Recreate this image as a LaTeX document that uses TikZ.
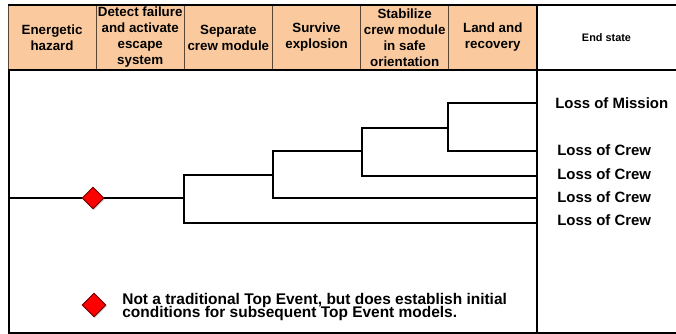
\documentclass[tikz,border=0pt]{standalone}
\usepackage{fontspec}
\setmainfont{Liberation Sans}
\usetikzlibrary{positioning,shapes.geometric,shadows}
\definecolor{peach}{RGB}{250,202,158}
\definecolor{rule}{RGB}{90,70,50}
\definecolor{hazred}{RGB}{255,0,0}
\definecolor{hazedge}{RGB}{110,0,0}
\lineskiplimit=-5pt

\begin{document}
\begin{tikzpicture}[
  x=0.02cm,y=-0.02cm,
  hdr/.style={
    draw=rule,
    line width=0.5pt,
    fill=peach,
    minimum width=1.7633cm,
    minimum height=1.3cm,
    inner sep=0pt,
    outer sep=0pt,
    align=center,
    font=\bfseries\fontsize{7.6}{9.1}\selectfont
  },
  tree/.style={line width=1.1pt},
  frame/.style={line width=1.1pt},
  endst/.style={anchor=west, inner sep=0pt, font=\bfseries\fontsize{8.5}{9}\selectfont},
  hazard/.style={
    diamond,
    draw=hazedge,
    fill=hazred,
    line width=0.5pt,
    inner sep=0pt,
    minimum size=0.44cm,
    drop shadow={shadow xshift=0.6pt, shadow yshift=-0.6pt, opacity=0.45}
  }
]
\useasboundingbox (0,0) rectangle (676,334);

% header row
\node[hdr,anchor=north west] (haz) at (8,5) {Energetic\\hazard};
\node[hdr,right=0pt of haz] (det) {Detect failure\\and activate\\escape\\system};
\node[hdr,right=0pt of det] (sep) {Separate\\crew module};
\node[hdr,right=0pt of sep] (surv) {Survive\\explosion};
\node[hdr,right=0pt of surv] (stab) {Stabilize\\crew module\\in safe\\orientation};
\node[hdr,right=0pt of stab] (land) {Land and\\recovery};
\node[font=\bfseries\fontsize{6.2}{7}\selectfont] (endh) at (606.5,38) {End state};

% frame
\draw[frame] (8,5) -- (676,5);
\draw[frame] (8,70) -- (676,70);
\draw[frame] (9,70) -- (9,334);
\draw[frame] (537,5) -- (537,334);
\draw[frame] (9,333) -- (676,333);

% event tree
\coordinate (start) at (9,198);
\node[hazard] (dia) at (93,198) {};
\coordinate (b1) at (184,198);
\coordinate (b2) at (273,175);
\coordinate (b3) at (362,151);
\coordinate (b4) at (448,128);
\coordinate (o1) at (537,103);
\coordinate (o2) at (537,151);
\coordinate (o3) at (537,176);
\coordinate (o4) at (537,198);
\coordinate (o5) at (537,223);

\draw[tree] (start) -- (dia) -- (b1);
\draw[tree] (b2) -| (b1) |- (o5);
\draw[tree] (b3) -| (b2) |- (o4);
\draw[tree] (b4) -| (b3) |- (o3);
\draw[tree] (o1) -| (b4) |- (o2);

% end states
\node[endst] (lom) at (555,103) {Loss of Mission};
\node[endst] (loc1) at (557,150) {Loss of Crew};
\node[endst] (loc2) at (557,174) {Loss of Crew};
\node[endst] (loc3) at (557,197) {Loss of Crew};
\node[endst] (loc4) at (557,220) {Loss of Crew};

% key
\node[hazard,minimum size=0.48cm] (key) at (94,305) {};
\node[anchor=west, align=left, inner sep=0pt,
  font=\bfseries\fontsize{8.8}{7.5}\selectfont] (keytxt) at (122,307)
  {Not a traditional Top Event, but does establish initial\\conditions for subsequent Top Event models.};
\end{tikzpicture}
\end{document}
